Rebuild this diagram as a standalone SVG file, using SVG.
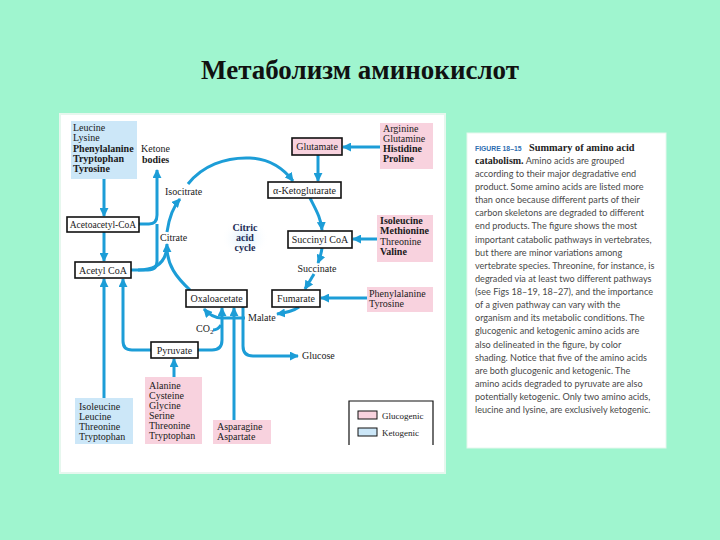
<svg xmlns="http://www.w3.org/2000/svg" width="720" height="540" viewBox="0 0 720 540">
<defs>
<style>
.t{font-family:"Liberation Serif","Times New Roman",serif;font-size:10px;fill:#1a1a1a}
.b{font-weight:bold}
.box{fill:#ffffff;stroke:#111;stroke-width:1.6}
.pbox{fill:#f8d2de;stroke:#111;stroke-width:1.6}
.pink{fill:#f8d2de}
.blue{fill:#cce7f8}
.c{fill:none;stroke:#1c9dd7;stroke-width:3;stroke-linecap:butt}
.a{marker-end:url(#ah)}
.p{font-family:"Lato","Open Sans",sans-serif;font-size:9.1px;fill:#4a4a4a}
</style>
<marker id="ah" viewBox="0 0 10 10" refX="9" refY="5" markerWidth="9" markerHeight="9" markerUnits="userSpaceOnUse" orient="auto">
<path d="M0,0 L10,5 L0,10 z" fill="#1c9dd7"/>
</marker>
<radialGradient id="glow" cx="0.5" cy="0.5" r="0.5">
<stop offset="0" stop-color="#d6ecfb"/>
<stop offset="1" stop-color="#ffffff" stop-opacity="0"/>
</radialGradient>
</defs>
<rect x="0" y="0" width="720" height="540" fill="#9ff5cf"/>
<text x="360" y="79" text-anchor="middle" style="font-family:'Liberation Serif',serif;font-size:27px;font-weight:bold;fill:#111">Метаболизм аминокислот</text>

<rect x="60" y="114" width="385" height="359" fill="#ffffff" stroke="#e6f7ee" stroke-width="2"/>
<rect x="467" y="133" width="199" height="315" fill="#ffffff" stroke="#e6f7ee" stroke-width="1"/>

<g id="connectors">
<path class="c a" d="M104,179 V216"/>
<path class="c a" d="M104,232 V261"/>
<path class="c a" d="M139,224 H149 Q157,224 157,215 V170"/>
<path class="c" d="M131,270 H148 Q157,270 157,261 V224"/>
<path class="c a" d="M138,270 C157,270 167,262 167,244"/>
<path class="c" d="M190,290 C176,277 167,265 167,247"/>
<path class="c a" d="M167,232 C169,218 172,208 180,199"/>
<path class="c a" d="M188,184 C202,166 225,157 250,158 C270,159 283,168 293,181"/>
<path class="c a" d="M318,155 V181"/>
<path class="c a" d="M380,147 H343"/>
<path class="c a" d="M310,198 C316,210 321,218 322,230"/>
<path class="c a" d="M377,239 H353"/>
<path class="c a" d="M322,248 C321,255 320,258 318,263"/>
<path class="c a" d="M314,274 L305,289"/>
<path class="c a" d="M367,298 H321"/>
<path class="c a" d="M299,307 Q292,312 277,314"/>
<path class="c a" d="M245,318 H222 Q212,318 204,309"/>
<path class="c a" d="M198,350 H212 Q222,350 222,340 V308"/>
<path class="c" d="M213,330 Q218,330 221,325"/>
<path class="c a" d="M151,350 H132 Q123,350 123,341 V279"/>
<path class="c a" d="M104,398 V279"/>
<path class="c a" d="M174,377 V359"/>
<path class="c a" d="M234,420 V308"/>
<path class="c a" d="M243,307 V346 Q243,356 253,356 H298"/>
</g>

<g id="leucine-group">
<rect class="blue" x="71" y="121" width="66" height="58"/>
<text class="t" x="73" y="131">Leucine</text>
<text class="t" x="73" y="141">Lysine</text>
<text class="t b" x="73" y="152">Phenylalanine</text>
<text class="t b" x="73" y="162">Tryptophan</text>
<text class="t b" x="73" y="172">Tyrosine</text>
</g>
<g id="ketone">
<text class="t" x="141" y="152">Ketone</text>
<text class="t b" x="142" y="163">bodies</text>
</g>
<g id="acetoacetyl">
<rect class="box" x="67" y="217" width="72" height="15"/>
<text class="t" x="103" y="228" text-anchor="middle" style="font-size:9.5px">Acetoacetyl-CoA</text>
</g>
<g id="acetylcoa">
<rect class="box" x="75" y="262" width="56" height="16"/>
<text class="t" x="103" y="274" text-anchor="middle">Acetyl CoA</text>
</g>
<g id="isocitrate"><text class="t" x="165" y="195">Isocitrate</text></g>
<g id="citrate"><text class="t" x="160" y="241">Citrate</text></g>
<g id="cycle">
<ellipse cx="245" cy="238" rx="24" ry="20" fill="url(#glow)"/>
<text class="t b" x="245" y="231" text-anchor="middle" style="fill:#1f2d55">Citric</text>
<text class="t b" x="245" y="241" text-anchor="middle" style="fill:#1f2d55">acid</text>
<text class="t b" x="245" y="251" text-anchor="middle" style="fill:#1f2d55">cycle</text>
</g>
<g id="glutamate">
<rect class="pbox" x="292" y="138" width="50" height="17"/>
<text class="t" x="317" y="150" text-anchor="middle">Glutamate</text>
</g>
<g id="arginine-group">
<rect class="pink" x="380" y="123" width="53" height="46"/>
<text class="t" x="383" y="132">Arginine</text>
<text class="t" x="383" y="142">Glutamine</text>
<text class="t b" x="383" y="152">Histidine</text>
<text class="t b" x="383" y="162">Proline</text>
</g>
<g id="aketoglutarate">
<rect class="box" x="268" y="182" width="73" height="16"/>
<text class="t" x="304.5" y="194" text-anchor="middle">α-Ketoglutarate</text>
</g>
<g id="succinylcoa">
<rect class="box" x="288" y="231" width="64" height="17"/>
<text class="t" x="320" y="243" text-anchor="middle">Succinyl CoA</text>
</g>
<g id="isoleucine-group">
<rect class="pink" x="377" y="215" width="56" height="47"/>
<text class="t b" x="380" y="224">Isoleucine</text>
<text class="t b" x="380" y="234">Methionine</text>
<text class="t" x="380" y="245">Threonine</text>
<text class="t b" x="380" y="255">Valine</text>
</g>
<g id="succinate"><text class="t" x="317" y="272" text-anchor="middle">Succinate</text></g>
<g id="fumarate">
<rect class="box" x="272" y="290" width="48" height="17"/>
<text class="t" x="296" y="302" text-anchor="middle">Fumarate</text>
</g>
<g id="phe-group">
<rect class="pink" x="367" y="287" width="66" height="25"/>
<text class="t" x="369" y="297">Phenylalanine</text>
<text class="t" x="369" y="307">Tyrosine</text>
</g>
<g id="oxaloacetate">
<rect class="box" x="186" y="290" width="61" height="17"/>
<text class="t" x="216.5" y="302" text-anchor="middle">Oxaloacetate</text>
</g>
<g id="malate"><text class="t" x="248" y="321">Malate</text></g>
<g id="co2"><text class="t" x="196" y="332">CO<tspan style="font-size:7px" dy="2">2</tspan></text></g>
<g id="pyruvate">
<rect class="box" x="151" y="342" width="47" height="16"/>
<text class="t" x="174.5" y="354" text-anchor="middle">Pyruvate</text>
</g>
<g id="glucose"><text class="t" x="302" y="359">Glucose</text></g>
<g id="alanine-group">
<rect class="pink" x="145" y="377" width="57" height="67"/>
<text class="t" x="149" y="389">Alanine</text>
<text class="t" x="149" y="399">Cysteine</text>
<text class="t" x="149" y="409">Glycine</text>
<text class="t" x="149" y="419">Serine</text>
<text class="t" x="149" y="429">Threonine</text>
<text class="t" x="149" y="439">Tryptophan</text>
</g>
<g id="isoleucine-keto-group">
<rect class="blue" x="75" y="398" width="58" height="46"/>
<text class="t" x="79" y="410">Isoleucine</text>
<text class="t" x="79" y="420">Leucine</text>
<text class="t" x="79" y="430">Threonine</text>
<text class="t" x="79" y="440">Tryptophan</text>
</g>
<g id="asparagine-group">
<rect class="pink" x="213" y="420" width="58" height="24"/>
<text class="t" x="217" y="430">Asparagine</text>
<text class="t" x="217" y="440">Aspartate</text>
</g>
<g id="legend">
<path d="M349,445 V401 H433 V445" fill="none" stroke="#111" stroke-width="1.2"/>
<rect x="358" y="411" width="19" height="8" fill="#f8d2de" stroke="#111" stroke-width="1"/>
<text class="t" x="382" y="419" style="font-size:9px">Glucogenic</text>
<rect x="358" y="428" width="19" height="8" fill="#cce7f8" stroke="#111" stroke-width="1"/>
<text class="t" x="382" y="436" style="font-size:9px">Ketogenic</text>
</g>

<g id="caption">
<text x="475" y="151" style="font-family:'Liberation Sans',sans-serif;font-size:6.8px;font-weight:bold;fill:#2c6db0">FIGURE 18–15</text>
<text x="529" y="151" style="font-family:'Liberation Serif',serif;font-size:10.3px;font-weight:bold;fill:#222">Summary of amino acid</text>
<text x="475" y="164"><tspan style="font-family:'Liberation Serif',serif;font-size:10px;font-weight:bold;fill:#222">catabolism.</tspan><tspan class="p"> Amino acids are grouped</tspan></text>
<text class="p" x="475" y="177">according to their major degradative end</text>
<text class="p" x="475" y="190">product. Some amino acids are listed more</text>
<text class="p" x="475" y="203">than once because different parts of their</text>
<text class="p" x="475" y="216">carbon skeletons are degraded to different</text>
<text class="p" x="475" y="229">end products. The figure shows the most</text>
<text class="p" x="475" y="243">important catabolic pathways in vertebrates,</text>
<text class="p" x="475" y="256">but there are minor variations among</text>
<text class="p" x="475" y="269">vertebrate species. Threonine, for instance, is</text>
<text class="p" x="475" y="282">degraded via at least two different pathways</text>
<text class="p" x="475" y="295">(see Figs 18–19, 18–27), and the importance</text>
<text class="p" x="475" y="308">of a given pathway can vary with the</text>
<text class="p" x="475" y="321">organism and its metabolic conditions. The</text>
<text class="p" x="475" y="334">glucogenic and ketogenic amino acids are</text>
<text class="p" x="475" y="348">also delineated in the figure, by color</text>
<text class="p" x="475" y="361">shading. Notice that five of the amino acids</text>
<text class="p" x="475" y="374">are both glucogenic and ketogenic. The</text>
<text class="p" x="475" y="387">amino acids degraded to pyruvate are also</text>
<text class="p" x="475" y="400">potentially ketogenic. Only two amino acids,</text>
<text class="p" x="475" y="413">leucine and lysine, are exclusively ketogenic.</text>
</g>
</svg>
